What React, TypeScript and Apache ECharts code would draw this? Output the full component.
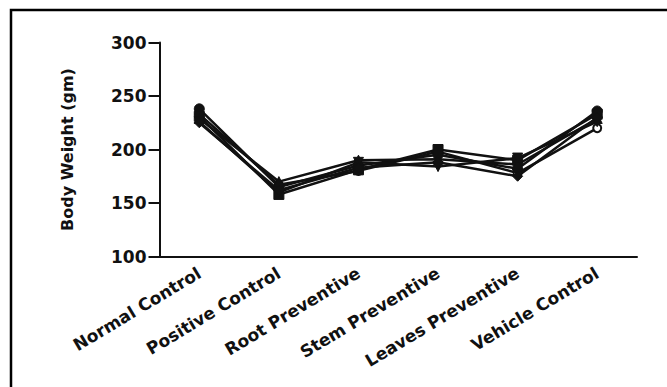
import React, { useEffect, useRef } from "react";
import * as echarts from "echarts";

const categories = [
  "Normal Control",
  "Positive Control",
  "Root Preventive",
  "Stem Preventive",
  "Leaves Preventive",
  "Vehicle Control",
];

const yTicks = { min: 100, max: 300, interval: 50 };
const yTitle = "Body Weight (gm)";

const rat1 = [233, 167, 180, 198, 178, 220];
const rat2 = [238, 165, 185, 195, 182, 236];
const rat3 = [231, 158, 181, 200, 190, 233];
const rat4 = [229, 170, 190, 191, 186, 229];
const rat5 = [226, 160, 188, 184, 192, 226];
const rat6 = [225, 162, 183, 188, 175, 230];

const seriesData = [rat1, rat2, rat3, rat4, rat5, rat6];
const symbols = ["emptyCircle", "circle", "rect", "triangle", "triangle", "diamond"];
const rotations = [0, 0, 0, 0, 180, 0];

export default function App() {
  const ref = useRef<HTMLDivElement>(null);
  useEffect(() => {
    if (!ref.current) return;
    const chart = echarts.init(ref.current, null, { renderer: "svg" });
    chart.setOption({
      animation: false,
      backgroundColor: "#fff",
      grid: { left: 159.5, right: 30, top: 42.5, bottom: 130.5, containLabel: false },
      graphic: [
        {
          type: "rect",
          shape: { x: 11, y: 10, width: 700, height: 420 },
          style: { fill: "none", stroke: "#000", lineWidth: 2.5 },
          silent: true,
        },
      ],
      xAxis: {
        type: "category",
        data: categories,
        boundaryGap: true,
        axisLine: { lineStyle: { color: "#111", width: 2 } },
        axisTick: { alignWithLabel: true, length: 6, lineStyle: { color: "#111", width: 2 } },
        axisLabel: {
          rotate: 31,
          margin: 15,
          interval: 0,
          color: "#111",
          fontFamily: "DejaVu Sans",
          fontWeight: "bold",
          fontSize: 17,
        },
        splitLine: { show: false },
      },
      yAxis: {
        type: "value",
        min: yTicks.min,
        max: yTicks.max,
        interval: yTicks.interval,
        name: yTitle,
        nameLocation: "middle",
        nameGap: 84,
        nameRotate: 90,
        nameTextStyle: {
          color: "#111",
          fontFamily: "DejaVu Sans",
          fontWeight: "bold",
          fontSize: 16,
        },
        axisLine: { show: true, lineStyle: { color: "#111", width: 2 } },
        axisTick: { show: true, length: 11, lineStyle: { color: "#111", width: 2 } },
        axisLabel: {
          margin: 13,
          color: "#111",
          fontFamily: "DejaVu Sans",
          fontWeight: "bold",
          fontSize: 17,
        },
        splitLine: { show: false },
      },
      series: seriesData.map((d, i) => ({
        type: "line",
        data: d,
        symbol: symbols[i],
        symbolRotate: rotations[i],
        symbolSize: symbols[i] === "emptyCircle" ? 8 : 10,
        showSymbol: true,
        z: symbols[i] === "emptyCircle" ? 1 : 2,
        lineStyle: { color: "#111", width: 2.5 },
        itemStyle: {
          color: "#111",
          borderColor: "#111",
          borderWidth: symbols[i] === "emptyCircle" ? 2.5 : 1,
        },
      })),
    });
    return () => chart.dispose();
  }, []);
  return (
    <div
      ref={ref}
      style={{ position: "fixed", left: 0, top: 0, width: 667, height: 387 }}
    />
  );
}
